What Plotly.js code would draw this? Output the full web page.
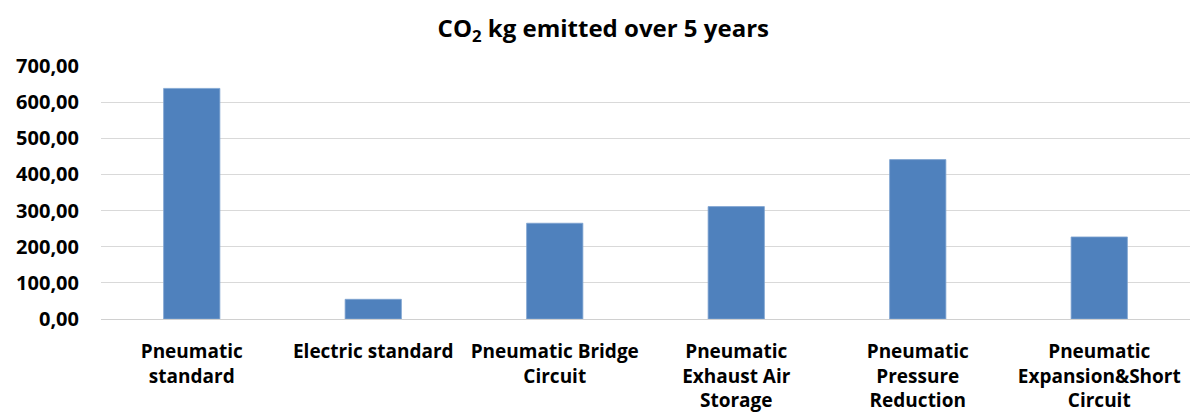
<!DOCTYPE html>
<html>
<head>
<meta charset="utf-8">
<script src="https://cdn.plot.ly/plotly-3.0.1.min.js"></script>
<style>html,body{margin:0;padding:0;background:#fff}#chart{width:1197px;height:418px}</style>
</head>
<body>
<div id="chart"></div>
<script>
const categories = [
  "Pneumatic<br>standard",
  "Electric standard",
  "Pneumatic Bridge<br>Circuit",
  "Pneumatic<br>Exhaust Air<br>Storage",
  "Pneumatic<br>Pressure<br>Reduction",
  "Pneumatic<br>Expansion&Short<br>Circuit"
];
const co2Values = [638, 54.5, 265, 311, 441, 227];
const yTickValues = [0, 100, 200, 300, 400, 500, 600, 700];

const FONT = "Open Sans, Noto Sans, sans-serif";

const trace = {
  type: "bar",
  x: categories,
  y: co2Values,
  marker: {color: "#4F81BD", line: {color: "#7FA3D0", width: 0.8}},
  hoverinfo: "skip"
};

const layout = {
  width: 1197,
  height: 418,
  margin: {l: 101, r: 7, t: 66, b: 99},
  paper_bgcolor: "#fff",
  plot_bgcolor: "#fff",
  separators: ",.",
  showlegend: false,
  bargap: 0.69,
  title: {
    text: "CO<sub>2</sub> kg emitted over 5 years",
    font: {family: FONT, size: 24, color: "#000", weight: "bold"},
    x: 0.504, xref: "container", xanchor: "center",
    y: 0.932, yref: "container", yanchor: "middle"
  },
  xaxis: {
    type: "category",
    showgrid: false,
    showline: false,
    zeroline: false,
    ticks: "",
    tickangle: 0,
    ticklabelstandoff: 19,
    tickfont: {family: FONT, size: 19, color: "#000", weight: "bold"}
  },
  yaxis: {
    range: [0, 700],
    tickvals: yTickValues,
    tickformat: ".2f",
    showgrid: true,
    gridcolor: "#D9D9D9",
    gridwidth: 1,
    zeroline: true,
    zerolinecolor: "#D0D0D0",
    zerolinewidth: 1,
    showline: false,
    ticks: "",
    ticklabelstandoff: 21,
    tickfont: {family: FONT, size: 20, color: "#000", weight: "bold"}
  }
};

Plotly.newPlot("chart", [trace], layout, {displayModeBar: false, staticPlot: true});
</script>
</body>
</html>
